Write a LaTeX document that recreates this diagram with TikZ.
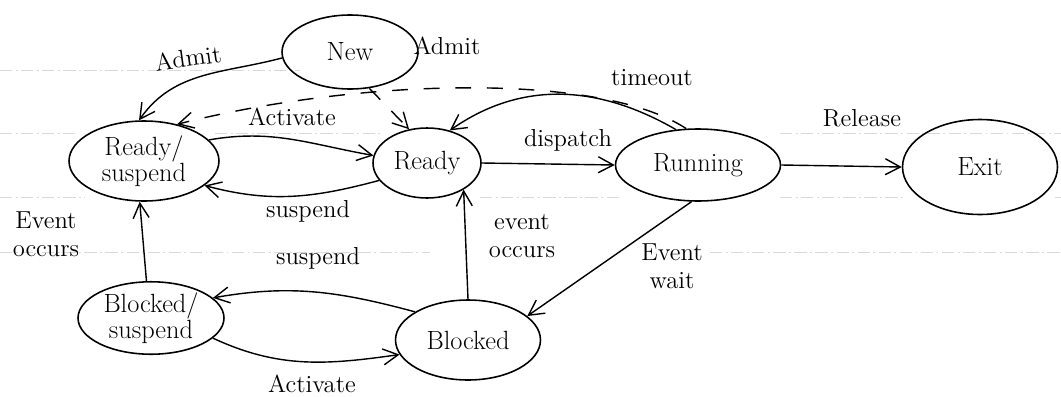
\documentclass[tikz,border=0pt]{standalone}
\usetikzlibrary{shapes.geometric,arrows.meta}
\begin{document}
\begin{tikzpicture}[x=0.02cm,y=-0.02cm,
  state/.style={draw,ellipse,line width=0.9pt,inner sep=0pt,align=center,font=\fontsize{15}{15}\selectfont},
  lbl/.style={font=\fontsize{14}{16}\selectfont,align=center},
  conn/.style={line width=0.8pt,-{Straight Barb[length=3mm,width=3.2mm]}},
  dconn/.style={conn,dash pattern=on 9pt off 9pt},
  rule/.style={black!15,line width=0.4pt,dash pattern=on 7pt off 2pt on 1pt off 2pt}]
\useasboundingbox (0,0) rectangle (1061,396);

% faint ruling of the paper
\draw[rule] (0,70) -- (300,70);
\draw[rule] (0,133) -- (75,133) (215,133) -- (380,133) (780,133) -- (1061,133);
\draw[rule] (0,197) -- (85,197) (480,197) -- (620,197) (780,197) -- (905,197) (1055,197) -- (1061,197);
\draw[rule] (0,252) -- (430,252) (710,252) -- (1061,252);

% states
\node[state,minimum width=2.72cm,minimum height=1.48cm] (new)   at (350,52)  {New};
\node[state,minimum width=3.0cm, minimum height=1.6cm]  (rs)    at (144,161) {Ready/\\suspend};
\node[state,minimum width=2.16cm,minimum height=1.4cm]  (ready) at (427,163) {Ready};
\node[state,minimum width=3.3cm, minimum height=1.44cm] (run)   at (698,165) {Running};
\node[state,minimum width=3.1cm, minimum height=1.9cm]  (exit)  at (980,167) {Exit};
\node[state,minimum width=2.92cm,minimum height=1.24cm] (bs)    at (151,318) {Blocked/\\suspend};
\node[state,minimum width=2.9cm, minimum height=1.6cm]  (blk)   at (468,340) {Blocked};

% transitions
\draw[conn]  (new.185) to[out=195,in=55] (rs.97);
\draw[dconn] (new.-62) -- (ready.118);
\draw[dconn] (run.108) .. controls (600,72) and (360,78) .. (rs.48);
\draw[conn]  (rs.18) to[out=10,in=170] (ready.172);
\draw[conn]  (ready.200) to[out=195,in=-15] (rs.-22);
\draw[conn]  (ready.east) -- (run.west);
\draw[conn]  (run.122) to[out=150,in=35] (ready.55);
\draw[conn]  (run.east) -- (exit.west);
\draw[conn]  (run.-100) -- (blk.22);
\draw[conn]  (blk.90) -- (ready.-36);
\draw[conn]  (bs.97) -- (rs.-96);
\draw[conn]  (blk.152) to[out=165,in=10] (bs.18);
\draw[conn]  (bs.-18) to[out=-25,in=188] (blk.192);

% transition labels
\node[lbl,rotate=8] (l1) at (188,58)  {Admit};
\node[lbl] (l2)  at (447,46)  {Admit};
\node[lbl] (l3)  at (292,117) {Activate};
\node[lbl] (l4)  at (652,78)  {timeout};
\node[lbl] (l5)  at (568,140) {dispatch};
\node[lbl] (l6)  at (862,118) {Release};
\node[lbl] (l7)  at (308,211) {suspend};
\node[lbl] (l8)  at (318,258) {suspend};
\node[lbl] (l9)  at (312,384) {Activate};
\node[lbl] (l10) at (672,266) {Event\\wait};
\node[lbl] (l11) at (522,236) {event\\occurs};
\node[lbl] (l12) at (46,234)  {Event\\occurs};
\end{tikzpicture}
\end{document}
